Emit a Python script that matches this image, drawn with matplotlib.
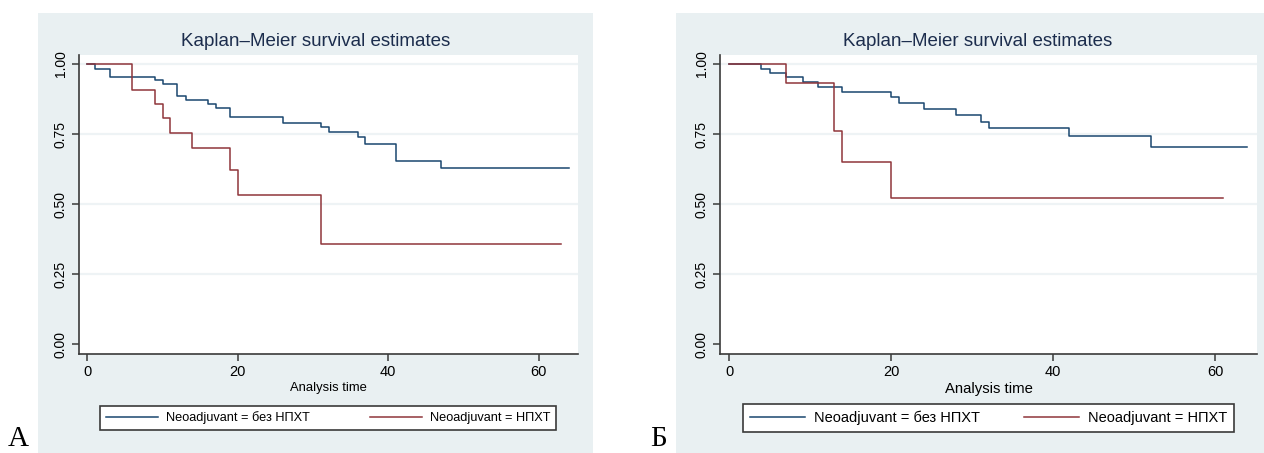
import matplotlib
matplotlib.use("Agg")
from matplotlib import pyplot as plt
from matplotlib.patches import Rectangle
from matplotlib.lines import Line2D

# Kaplan-Meier step data (time, survival)
timesA_blue = [0, 1.0, 3.0, 9.0, 10.1, 12.0, 13.1, 16.1, 17.1, 19.0, 26.1, 31.1, 32.1, 36.0, 37.0, 41.1, 47.0, 64.0]
survA_blue = [1.0, 0.982, 0.955, 0.943, 0.929, 0.886, 0.871, 0.856, 0.842, 0.810, 0.790, 0.776, 0.756, 0.740, 0.714, 0.654, 0.627, 0.627]
timesA_red = [0, 6.0, 9.0, 10.1, 11.0, 14.0, 19.0, 20.0, 31.1, 63.0]
survA_red = [1.0, 0.907, 0.857, 0.808, 0.752, 0.701, 0.621, 0.532, 0.356, 0.356]

timesB_blue = [0, 3.9, 5.1, 7.0, 9.1, 11.0, 14.0, 20.0, 21.0, 24.1, 28.0, 31.1, 32.1, 42.0, 52.1, 64.0]
survB_blue = [1.0, 0.982, 0.969, 0.952, 0.937, 0.919, 0.901, 0.881, 0.862, 0.839, 0.818, 0.794, 0.771, 0.744, 0.705, 0.705]
timesB_red = [0, 7.0, 13.0, 14.0, 20.0, 61.0]
survB_red = [1.0, 0.931, 0.761, 0.651, 0.520, 0.520]

yticks = [0.0, 0.25, 0.5, 0.75, 1.0]
xticks = [0, 20, 40, 60]
groupLabels = ["Neoadjuvant = без НПХТ", "Neoadjuvant = НПХТ"]
panelLetters = ["A", "Б"]
title = "Kaplan–Meier survival estimates"
xlabel = "Analysis time"

W, H = 1264, 453
BLUE = "#1a476f"
RED = "#90353b"
BG = "#e9f0f2"
GRID = "#eef3f5"
TXT = "#1c2d4d"
sans = ["Liberation Sans", "DejaVu Sans"]

fig = plt.figure(figsize=(W / 100, H / 100), dpi=100)
fig.patch.set_facecolor("white")


def fx(px):
	return px / W


def fy(py):
	return 1 - py / H


def panel(box, axbox, x0px, pxPerUnit, blue, red, legbox, legSize, labSize, handleLen):
	# box/axbox: (left, top, right, bottom) in pixels
	fig.patches.append(Rectangle((fx(box[0]), fy(box[3])), fx(box[2] - box[0]), (box[3] - box[1]) / H,
		transform=fig.transFigure, facecolor=BG, edgecolor="none", zorder=0))
	ax = fig.add_axes([fx(axbox[0]), fy(axbox[3]), fx(axbox[2] - axbox[0]), (axbox[3] - axbox[1]) / H])
	ax.set_facecolor("white")
	ax.set_zorder(2)
	for v in yticks[1:]:
		ax.axhline(v, color=GRID, lw=1.6, zorder=1)
	ax.step(blue[0], blue[1], where="post", color=BLUE, lw=1.1, zorder=3)
	ax.step(red[0], red[1], where="post", color=RED, lw=1.1, zorder=4)
	ax.set_xlim((axbox[0] - x0px) / pxPerUnit, (axbox[2] - x0px) / pxPerUnit)
	ax.set_ylim(-10 / 280, 1 + 9 / 280)
	ax.set_xticks(xticks)
	ax.set_yticks(yticks)
	ax.set_yticklabels(["%.2f" % v for v in yticks], rotation=90, va="center", family=sans, fontsize=10)
	ax.set_xticklabels([str(v) for v in xticks], family=sans, fontsize=10.5)
	for s in ["top", "right"]:
		ax.spines[s].set_visible(False)
	for s in ["left", "bottom"]:
		ax.spines[s].set_color("#3a3a3a")
		ax.spines[s].set_linewidth(1.2)
	ax.tick_params(direction="out", length=5, width=1.1, color="#3a3a3a", labelcolor="black", pad=3)
	ax.set_xlabel(xlabel, family=sans, fontsize=labSize, labelpad=2)
	cx = (box[0] + box[2]) / 2
	fig.text(fx(cx), fy(42), title, ha="center", va="center", fontsize=13.5, color=TXT, family=sans)
	handles = [Line2D([], [], color=BLUE, lw=1.1), Line2D([], [], color=RED, lw=1.1)]
	l, t, r, b = legbox
	leg = fig.legend(handles, groupLabels, loc="center", ncol=2, mode="expand",
		bbox_to_anchor=(fx(l), fy(b), fx(r - l), (b - t) / H), bbox_transform=fig.transFigure,
		prop={"family": sans, "size": legSize}, fancybox=False, frameon=True,
		handlelength=handleLen, handletextpad=0.6, borderpad=0.45, borderaxespad=0, framealpha=1)
	leg.get_frame().set_edgecolor("#3a3a3a")
	leg.get_frame().set_linewidth(1.2)
	leg.set_zorder(5)
	return ax


panel((38, 13, 593, 453), (79, 55, 578, 354), 87, 7.525,
	(timesA_blue, survA_blue), (timesA_red, survA_red), (100, 404, 556, 432), 9.2, 9.4, 4.1)
panel((676, 13, 1280, 453), (720, 55, 1257, 354), 729, 8.1,
	(timesB_blue, survB_blue), (timesB_red, survB_red), (743, 404, 1234, 432), 10.5, 10.7, 3.8)

fig.text(fx(8), 0.003, panelLetters[0], ha="left", va="bottom", fontsize=21,
	family=["Liberation Serif", "DejaVu Serif"])
fig.text(fx(650), 0.003, panelLetters[1], ha="left", va="bottom", fontsize=21,
	family=["Liberation Serif", "DejaVu Serif"])

fig.savefig("out.png", dpi=100)
